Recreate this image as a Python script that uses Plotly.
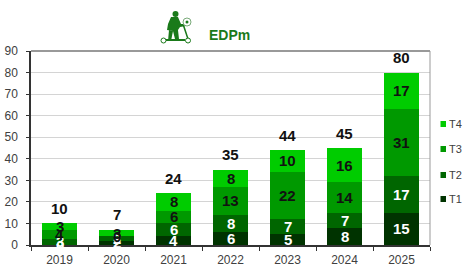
import plotly.graph_objects as go

years = ["2019", "2020", "2021", "2022", "2023", "2024", "2025"]
t1 = [0, 2, 4, 6, 5, 8, 15]
t2 = [3, 2, 6, 8, 7, 7, 17]
t3 = [4, 0, 6, 13, 22, 14, 31]
t4 = [3, 3, 8, 8, 10, 16, 17]
totals = [10, 7, 24, 35, 44, 45, 80]
series = [("T1", t1, "#003300", "white"), ("T2", t2, "#006600", "white"),
          ("T3", t3, "#009900", "#111111"), ("T4", t4, "#00cc00", "#111111")]
FONT = "Liberation Sans"
PAGE_W, PAGE_H = 465, 275
L, R, T, B = 31, 430, 51, 245
fig = go.Figure()
annots = []
for name, vals, col, tc in series:
    fig.add_bar(x=years, y=vals, name=name, marker=dict(color=col, line=dict(width=0)), showlegend=False)
base = [0] * len(years)
for name, vals, col, tc in series:
    for i, v in enumerate(vals):
        annots.append(dict(x=i, y=base[i] + v / 2, text=f"<b>{v}</b>", showarrow=False,
                           font=dict(family=FONT, size=15, color=tc), xref="x", yref="y", yanchor="middle"))
        base[i] += v
for i, t in enumerate(totals):
    annots.append(dict(x=i, y=t, yshift=15, text=f"<b>{t}</b>", showarrow=False, xref="x", yref="y", yanchor="middle",
                       font=dict(family=FONT, size=15, color="#111111")))

def px(x): return (x - L) / (R - L)
def py(y): return (B - y) / (B - T)
def P(*pts):
    return " ".join(("M" if i == 0 else "L") + f"{px(a):.4f},{py(b):.4f}" for i, (a, b) in enumerate(pts))
G = "#1a7a1a"
ref = dict(xref="paper", yref="paper", layer="above")
shapes = [
    dict(type="circle", x0=px(172.5), x1=px(178.5), y0=py(17), y1=py(11), fillcolor=G, line=dict(width=0), **ref),
    dict(type="path", path=P((171, 17), (178, 17), (181, 24), (186, 24), (186, 26), (180, 27), (178, 30), (179, 39), (175, 39), (173, 31), (167, 30), (168, 24)) + " Z",
         fillcolor=G, line=dict(width=0), **ref),
    dict(type="path", path=P((169, 30), (173, 31), (171, 41), (168, 41)) + " Z", fillcolor=G, line=dict(width=0), **ref),
    dict(type="path", path=P((183, 24), (188, 39)), line=dict(color=G, width=1.5), **ref),
    dict(type="path", path=P((163, 40), (185, 40)), line=dict(color=G, width=2), **ref),
    dict(type="circle", x0=px(161), x1=px(166), y0=py(43), y1=py(38), fillcolor="white", line=dict(color=G, width=1), **ref),
    dict(type="circle", x0=px(185.5), x1=px(190.5), y0=py(43), y1=py(38), fillcolor="white", line=dict(color=G, width=1), **ref),
    dict(type="circle", x0=px(183), x1=px(191), y0=py(26), y1=py(18), fillcolor="white", line=dict(color="#7aaa7a", width=1), **ref),
    dict(type="circle", x0=px(185.5), x1=px(188.5), y0=py(23.5), y1=py(20.5), fillcolor=G, line=dict(width=0), **ref),
    dict(type="line", x0=0, x1=1, y0=1, y1=1, line=dict(color="#999999", width=2), **ref),
    dict(type="line", x0=1, x1=1, y0=0, y1=1, line=dict(color="#999999", width=1), **ref),
]
for (name, vals, col, tc), y in zip(reversed(series), [124, 149, 175, 199]):
    shapes.append(dict(type="rect", x0=px(440.5), x1=px(446), y0=py(y + 3), y1=py(y - 3), fillcolor=col,
                       line=dict(width=0), **ref))
    annots.append(dict(x=px(447), y=py(y), xref="paper", yref="paper", text=name, showarrow=False, xanchor="left",
                       yanchor="middle", font=dict(family=FONT, size=11, color="#404040")))
annots.append(dict(x=px(229), y=py(35), xref="paper", yref="paper", text="<b>EDPm</b>", showarrow=False,
                   yanchor="middle", font=dict(family=FONT, size=14, color=G)))
fig.update_layout(
    width=PAGE_W, height=PAGE_H, barmode="stack", paper_bgcolor="white", plot_bgcolor="white", showlegend=False,
    margin=dict(l=L, r=PAGE_W - R, t=T, b=PAGE_H - B, pad=0, autoexpand=False), font=dict(family=FONT, size=12, color="#404040"),
    shapes=shapes, annotations=annots, bargap=0.37,
    xaxis=dict(type="category", range=[-0.5, 6.5], showline=True, linecolor="#333333", linewidth=1.5, ticks="outside",
               ticklen=4, tickcolor="#333333", showgrid=False, tickfont=dict(size=12, color="#404040"),
               tickson="boundaries", ticklabelstandoff=3, automargin=False),
    yaxis=dict(range=[0, 90], dtick=10, showline=True, linecolor="#333333", linewidth=1.5, ticks="outside", ticklen=3,
               tickcolor="#333333", gridcolor="#d4d4d4", gridwidth=1, zeroline=False, tickfont=dict(size=12, color="#404040"),
               ticklabelstandoff=6, automargin=False),
)
fig.write_html("out.html", config={"displayModeBar": False}, post_script="document.body.style.margin='0';")
